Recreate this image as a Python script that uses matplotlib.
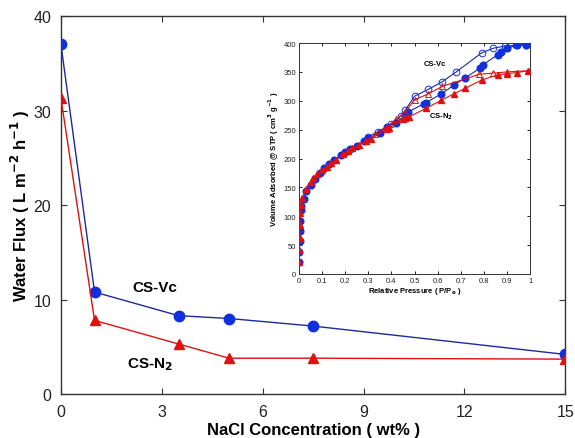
import matplotlib
matplotlib.use("Agg")
import matplotlib.pyplot as plt

plt.rcParams['font.family'] = ['Liberation Sans', 'DejaVu Sans']

# Main chart data
nacl = [0, 1, 3.5, 5, 7.5, 15]
flux_vc = [37.0, 10.8, 8.3, 8.0, 7.2, 4.2]
flux_n2 = [31.3, 7.8, 5.3, 3.8, 3.8, 3.7]

# Inset: N2 isotherms
vc_ads_p = [0.001, 0.002, 0.003, 0.004, 0.005, 0.007, 0.01, 0.02, 0.03, 0.05, 0.07, 0.09,
            0.11, 0.13, 0.15, 0.18, 0.2, 0.22, 0.25, 0.28, 0.3, 0.35, 0.38, 0.42, 0.46, 0.47,
            0.54, 0.55, 0.615, 0.67, 0.72, 0.785, 0.795, 0.86, 0.875, 0.9, 0.945, 0.98]
vc_ads_v = [20, 38, 57, 75, 92, 110, 118, 130, 143, 155, 165, 175,
            183, 190, 197, 206, 212, 217, 222, 230, 235, 245, 255, 262, 275, 280,
            295, 297, 312, 327, 340, 357, 362, 380, 384, 391, 396, 397]
vc_des_p = [0.98, 0.94, 0.89, 0.84, 0.79, 0.68, 0.62, 0.56, 0.5, 0.46, 0.44, 0.4, 0.34, 0.3]
vc_des_v = [397, 396, 395, 391, 383, 350, 333, 320, 308, 284, 273, 260, 246, 238]
n2_ads_p = [0.001, 0.002, 0.003, 0.004, 0.006, 0.008, 0.015, 0.03, 0.05, 0.06, 0.08, 0.1,
            0.12, 0.14, 0.16, 0.19, 0.21, 0.23, 0.26, 0.29, 0.31, 0.38, 0.39, 0.45, 0.46, 0.475,
            0.55, 0.615, 0.67, 0.72, 0.79, 0.86, 0.9, 0.945, 0.99]
n2_ads_v = [20, 42, 62, 85, 105, 120, 132, 148, 160, 166, 173, 180,
            186, 192, 198, 207, 213, 218, 224, 230, 234, 251, 253, 268, 270, 272,
            287, 301, 312, 322, 336, 345, 347, 349, 352]
n2_des_p = [0.99, 0.9, 0.84, 0.78, 0.62, 0.56, 0.5, 0.46, 0.42, 0.38, 0.33]
n2_des_v = [352, 350, 348, 346, 325, 312, 302, 281, 268, 255, 243]

blue_line = '#1c2a9c'
blue_mk = '#1030e0'
red = '#e01010'
txt = '#222222'

fig = plt.figure(figsize=(5.75, 4.39), dpi=100)
ax = fig.add_axes([0.106, 0.100, 0.877, 0.861])

ax.plot(nacl, flux_vc, '-', color=blue_line, lw=1.0, marker='o', ms=7.5,
        mfc=blue_mk, mec=blue_mk, zorder=3)
ax.plot(nacl, flux_n2, '-', color=red, lw=1.0, marker='^', ms=7.5,
        mfc=red, mec=red, zorder=3)

ax.set_xlim(0, 15)
ax.set_ylim(0, 40)
ax.set_xticks([0, 3, 6, 9, 12, 15])
ax.set_yticks([0, 10, 20, 30, 40])
ax.tick_params(direction='in', length=4, labelsize=11.5, top=True, right=True,
               labelcolor=txt, color='#333333')
ax.tick_params(axis='x', pad=7)
ax.tick_params(axis='y', pad=7)
ax.set_xlabel('NaCl Concentration ( wt% )', fontsize=12, fontweight='bold', labelpad=2)
ax.set_ylabel('Water Flux ( L m$^{\\mathbf{-2}}$ h$^{\\mathbf{-1}}$ )', fontsize=12,
              fontweight='bold', labelpad=1)
for s in ax.spines.values():
    s.set_color('#333333')
    s.set_linewidth(1.0)

ax.text(2.8, 11.3, 'CS-Vc', fontsize=11, fontweight='bold', ha='center', va='center')
ax.text(2.65, 3.2, 'CS-N$_\\mathbf{2}$', fontsize=11, fontweight='bold', ha='center', va='center')

# Inset
ins = fig.add_axes([0.52, 0.3736, 0.402, 0.526])
ins.plot(vc_des_p, vc_des_v, '-', color=blue_line, lw=0.8, marker='o', ms=4.8,
         mfc='none', mec=blue_mk, mew=0.7, zorder=3)
ins.plot(vc_ads_p, vc_ads_v, '-', color=blue_line, lw=0.8, marker='o', ms=4.8,
         mfc=blue_mk, mec=blue_mk, zorder=3)
ins.plot(n2_des_p, n2_des_v, '-', color=red, lw=0.8, marker='^', ms=4.8,
         mfc='none', mec=red, mew=0.7, zorder=4)
ins.plot(n2_ads_p, n2_ads_v, '-', color=red, lw=0.8, marker='^', ms=4.8,
         mfc=red, mec=red, zorder=4)
ins.set_xlim(0, 1)
ins.set_ylim(0, 400)
ins.set_xticks([0, 0.1, 0.2, 0.3, 0.4, 0.5, 0.6, 0.7, 0.8, 0.9, 1])
ins.set_xticklabels(['0', '0.1', '0.2', '0.3', '0.4', '0.5', '0.6', '0.7', '0.8', '0.9', '1'])
ins.set_yticks([0, 50, 100, 150, 200, 250, 300, 350, 400])
ins.tick_params(direction='in', length=2.5, labelsize=5.5, top=True, right=True, pad=2,
                width=0.6, labelcolor=txt)
ins.set_xlabel('Relative Pressure ( P/P$_\\mathbf{o}$ )', fontsize=5.5, fontweight='bold', labelpad=1)
ins.set_ylabel('Volume Adsorbed @ STP ( cm$^\\mathbf{3}$ g$^\\mathbf{-1}$ )', fontsize=5.5,
               fontweight='bold', labelpad=2)
for s in ins.spines.values():
    s.set_color('#333333')
    s.set_linewidth(0.7)
ins.text(0.59, 365, 'CS-Vc', fontsize=5.5, fontweight='bold', ha='center', va='center')
ins.text(0.615, 274, 'CS-N$_\\mathbf{2}$', fontsize=5.5, fontweight='bold', ha='center', va='center')

fig.savefig('out.png', dpi=100)
